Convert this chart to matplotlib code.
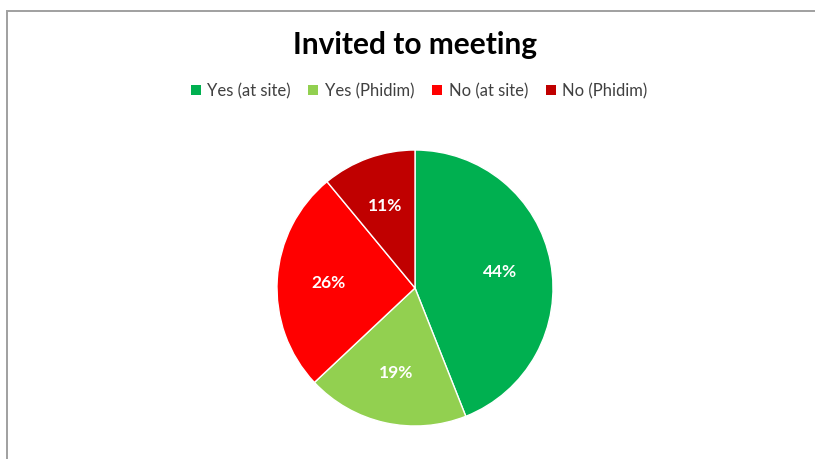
import matplotlib
matplotlib.use("Agg")
import matplotlib.pyplot as plt
from matplotlib.patches import Rectangle

title = "Invited to meeting"
categories = ["Yes (at site)", "Yes (Phidim)", "No (at site)", "No (Phidim)"]
values = [44, 19, 26, 11]
colors = ["#00B050", "#92D050", "#FF0000", "#C00000"]

W, H = 815, 459
fig = plt.figure(figsize=(W / 100, H / 100), dpi=100)
fig.patch.set_facecolor("white")

# chart frame (cropped on right/bottom)
fig.patches.append(Rectangle((7 / W, -0.1), 1.2, (H - 11) / H + 0.1,
                             transform=fig.transFigure, fill=False,
                             edgecolor="#A0A0A0", linewidth=1.4))

cx, cy, r = 415, 288, 138
ax = fig.add_axes([(cx - r) / W, (H - cy - r) / H, 2 * r / W, 2 * r / H])
wedges, texts, autotexts = ax.pie(
    values, colors=colors, startangle=90, counterclock=False,
    autopct=lambda p: f"{p:.0f}%", pctdistance=0.63,
    wedgeprops=dict(edgecolor="white", linewidth=1),
    textprops=dict(color="white", fontsize=12.5, fontweight="bold", family="Lato"))
ax.set_xlim(-1, 1)
ax.set_ylim(-1, 1)
ax.set_aspect("equal")
ax.axis("off")

fig.text(415 / W, 1 - 45 / H, title, ha="center", va="center",
         fontsize=21.5, fontweight="bold", family="Lato", color="black")

leg = fig.legend(wedges, categories, loc="center", bbox_to_anchor=(419 / W, 1 - 91 / H),
                 ncol=4, frameon=False, handlelength=0.6, handleheight=0.6,
                 handletextpad=0.4, columnspacing=1.05, prop=dict(family="Lato", size=12))
for t in leg.get_texts():
    t.set_color("#404040")
for h in leg.legend_handles:
    h.set_edgecolor("none")

fig.savefig("out.png", dpi=100)
